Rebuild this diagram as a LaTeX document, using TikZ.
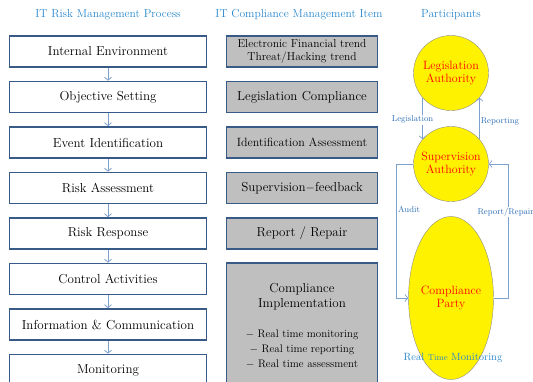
\documentclass[tikz,border=0pt]{standalone}
\usepackage{xcolor}
\usetikzlibrary{
    arrows.meta,
    positioning,
    shapes.geometric
}

\definecolor{headblue}{RGB}{40,135,205}
\definecolor{noteblue}{RGB}{45,110,180}
\definecolor{linkblue}{RGB}{125,160,205}
\definecolor{boxedge}{RGB}{56,90,135}
\definecolor{itemgray}{RGB}{191,191,191}

\begin{document}
\begin{tikzpicture}[
    x=1pt, y=-1pt,
    head/.style={
        text=headblue,
        font=\fontsize{11.5}{13}\selectfont
    },
    stepbox/.style={
        rectangle,
        draw=boxedge,
        line width=1.6pt,
        fill=white,
        align=center,
        minimum width=197pt,
        minimum height=31pt,
        font=\fontsize{13}{15}\selectfont
    },
    itembox/.style={
        rectangle,
        draw=boxedge,
        line width=1.6pt,
        fill=itemgray,
        align=center,
        minimum width=151pt,
        minimum height=31pt,
        font=\fontsize{13}{15}\selectfont
    },
    actor/.style={
        circle,
        draw=black!45,
        fill=yellow,
        text=red,
        align=center,
        inner sep=0pt,
        minimum size=75pt,
        font=\fontsize{12}{13.6}\selectfont
    },
    stepflow/.style={
        -{Straight Barb[length=3pt,width=7pt]},
        draw=linkblue,
        line width=0.8pt
    },
    flow/.style={
        -{Straight Barb[length=3pt,width=7pt]},
        draw=linkblue,
        line width=0.7pt
    },
    note/.style={
        text=noteblue,
        inner sep=1pt,
        font=\fontsize{8.5}{10}\selectfont
    }
]
\useasboundingbox (0,0) rectangle (533,381);
\clip (0,0) rectangle (533,381);

% =========================================================
% Column titles
% =========================================================
\node[head] (riskhead) at (108,15) {IT Risk Management Process};
\node[head] (itemhead) at (299,15) {IT Compliance Management Item};
\node[head] (parthead) at (451,15) {Participants};

% =========================================================
% Risk management process
% =========================================================
\node[stepbox] (env)     at (108,51.5)  {Internal Environment};
\node[stepbox] (obj)     at (108,97)    {Objective Setting};
\node[stepbox] (event)   at (108,142.5) {Event Identification};
\node[stepbox] (assess)  at (108,188)   {Risk Assessment};
\node[stepbox] (resp)    at (108,233.5) {Risk Response};
\node[stepbox] (control) at (108,279)   {Control Activities};
\node[stepbox] (info)    at (108,324.5) {Information \& Communication};
\node[stepbox] (monitor) at (108,370)   {Monitoring};

\draw[stepflow] (env) -- (obj);
\draw[stepflow] (obj) -- (event);
\draw[stepflow] (event) -- (assess);
\draw[stepflow] (assess) -- (resp);
\draw[stepflow] (resp) -- (control);
\draw[stepflow] (control) -- (info);
\draw[stepflow] (info) -- (monitor);

% =========================================================
% Compliance management items
% =========================================================
\node[itembox, font=\fontsize{11.5}{13.6}\selectfont] (trend) at (302,51.5)
{Electronic Financial trend\\Threat/Hacking trend};
\node[itembox] (legal) at (302,97) {Legislation Compliance};
\node[itembox, font=\fontsize{12}{14}\selectfont] (ident) at (302,142.5)
{Identification Assessment};
\node[itembox] (feedback) at (302,188) {Supervision$-$feedback};
\node[itembox] (repair) at (302,233.5) {Report / Repair};
\node[itembox, minimum height=126pt] (impl) at (302,326)
{Compliance\\Implementation\\[15pt]
 {\fontsize{11}{13}\selectfont $-$ Real time monitoring}\\
 {\fontsize{11}{13}\selectfont $-$ Real time reporting}\\
 {\fontsize{11}{13}\selectfont $-$ Real time assessment}};

% =========================================================
% Participants
% =========================================================
\node[actor] (legis) at (451,73) {Legislation\\Authority};
\node[actor] (super) at (451,164) {Supervision\\Authority};
\node[actor, ellipse, minimum width=77pt, minimum height=163pt] (party) at (451,298)
{Compliance\\Party};

\draw[flow] (legis.221) -- node[pos=0.53, xshift=-10pt, fill=white, note] {Legislation} (super.139);
\draw[flow] (super.41) -- node[pos=0.44, right, note] {Reporting} (legis.319);
\draw[flow] (super.west) -- ++(-16.5,0) |- node[pos=0.17, right, note] {Audit} (party.west);
\draw[flow] (party.east) -- ++(15,0) |- node[pos=0.32, xshift=-3pt, fill=white, note] {Report/Repair} (super.east);

\node[text=headblue, font=\fontsize{10.5}{12}\selectfont] (realtime) at (453,358)
{Real {\fontsize{8.5}{10}\selectfont Time} Monitoring};

\end{tikzpicture}
\end{document}
